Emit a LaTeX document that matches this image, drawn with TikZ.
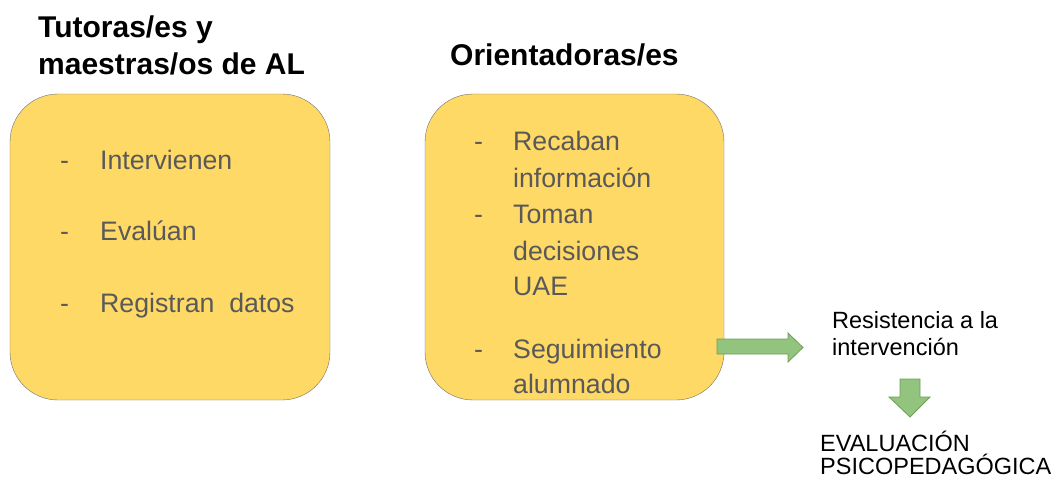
\documentclass[tikz,border=0pt]{standalone}
\usepackage{fontspec}
\setmainfont{Liberation Sans}
\definecolor{boxyellow}{HTML}{FFD966}
\definecolor{boxline}{HTML}{707070}
\definecolor{boxtext}{HTML}{595959}
\definecolor{arrowfill}{HTML}{93C47D}
\definecolor{arrowline}{HTML}{6E9E5A}
\tikzset{
	panel/.style={draw=boxline,fill=boxyellow,rounded corners=48pt,inner sep=0pt},
	title/.style={anchor=base west,inner sep=0pt,font=\fontsize{30}{36}\selectfont\bfseries},
	item/.style={anchor=base west,inner sep=0pt,text=boxtext,font=\fontsize{26.7}{32}\selectfont},
	label/.style={anchor=base west,inner sep=0pt,font=\fontsize{23.5}{27}\selectfont},
	blockarrow/.style={draw=arrowline,fill=arrowfill,line width=0.8pt}
}
\begin{document}
\begin{tikzpicture}[x=1pt,y=-1pt]
	\useasboundingbox (0,0) rectangle (1055,479);
	% titles
	\node[title] (tut1) at (38,37) {Tutoras/es y};
	\node[title] (tut2) at (38,74) {maestras/os de AL};
	\node[title] (ori) at (450,65) {Orientadoras/es};
	% boxes
	\node[panel,minimum width=320pt,minimum height=306pt] (tutbox) at (170,247) {};
	\node[panel,minimum width=299pt,minimum height=306pt] (oribox) at (574.5,247) {};
	% left box
	\node[item] (d1) at (60,169) {-};
	\node[item] (t1) at (100,169) {Intervienen};
	\node[item] (d2) at (60,240) {-};
	\node[item] (t2) at (100,240) {Evalúan};
	\node[item] (d3) at (60,312) {-};
	\node[item] (t3) at (100,312) {Registran\ \ datos};
	% right box
	\node[item] (e1) at (474,150) {-};
	\node[item] (s1) at (513,150) {Recaban};
	\node[item] (s2) at (513,187) {información};
	\node[item] (e2) at (474,223) {-};
	\node[item] (s3) at (513,223) {Toman};
	\node[item] (s4) at (513,260) {decisiones};
	\node[item] (s5) at (513,295) {UAE};
	\node[item] (e3) at (474,358) {-};
	\node[item] (s6) at (513,358) {Seguimiento};
	\node[item] (s7) at (513,393) {alumnado};
	% outcome
	\node[label] (res1) at (832,328) {Resistencia a la};
	\node[label] (res2) at (832,355) {intervención};
	\node[label] (eva1) at (820,451) {EVALUACIÓN};
	\node[label] (eva2) at (820,474) {PSICOPEDAGÓGICA};
	% arrows
	\draw[blockarrow] (717,339)--(788,339)--(788,333)--(803,347.5)--(788,362)--(788,354)--(717,354)--cycle;
	\draw[blockarrow] (900,379)--(920,379)--(920,397)--(930,397)--(910,417)--(889,397)--(900,397)--cycle;
\end{tikzpicture}
\end{document}
